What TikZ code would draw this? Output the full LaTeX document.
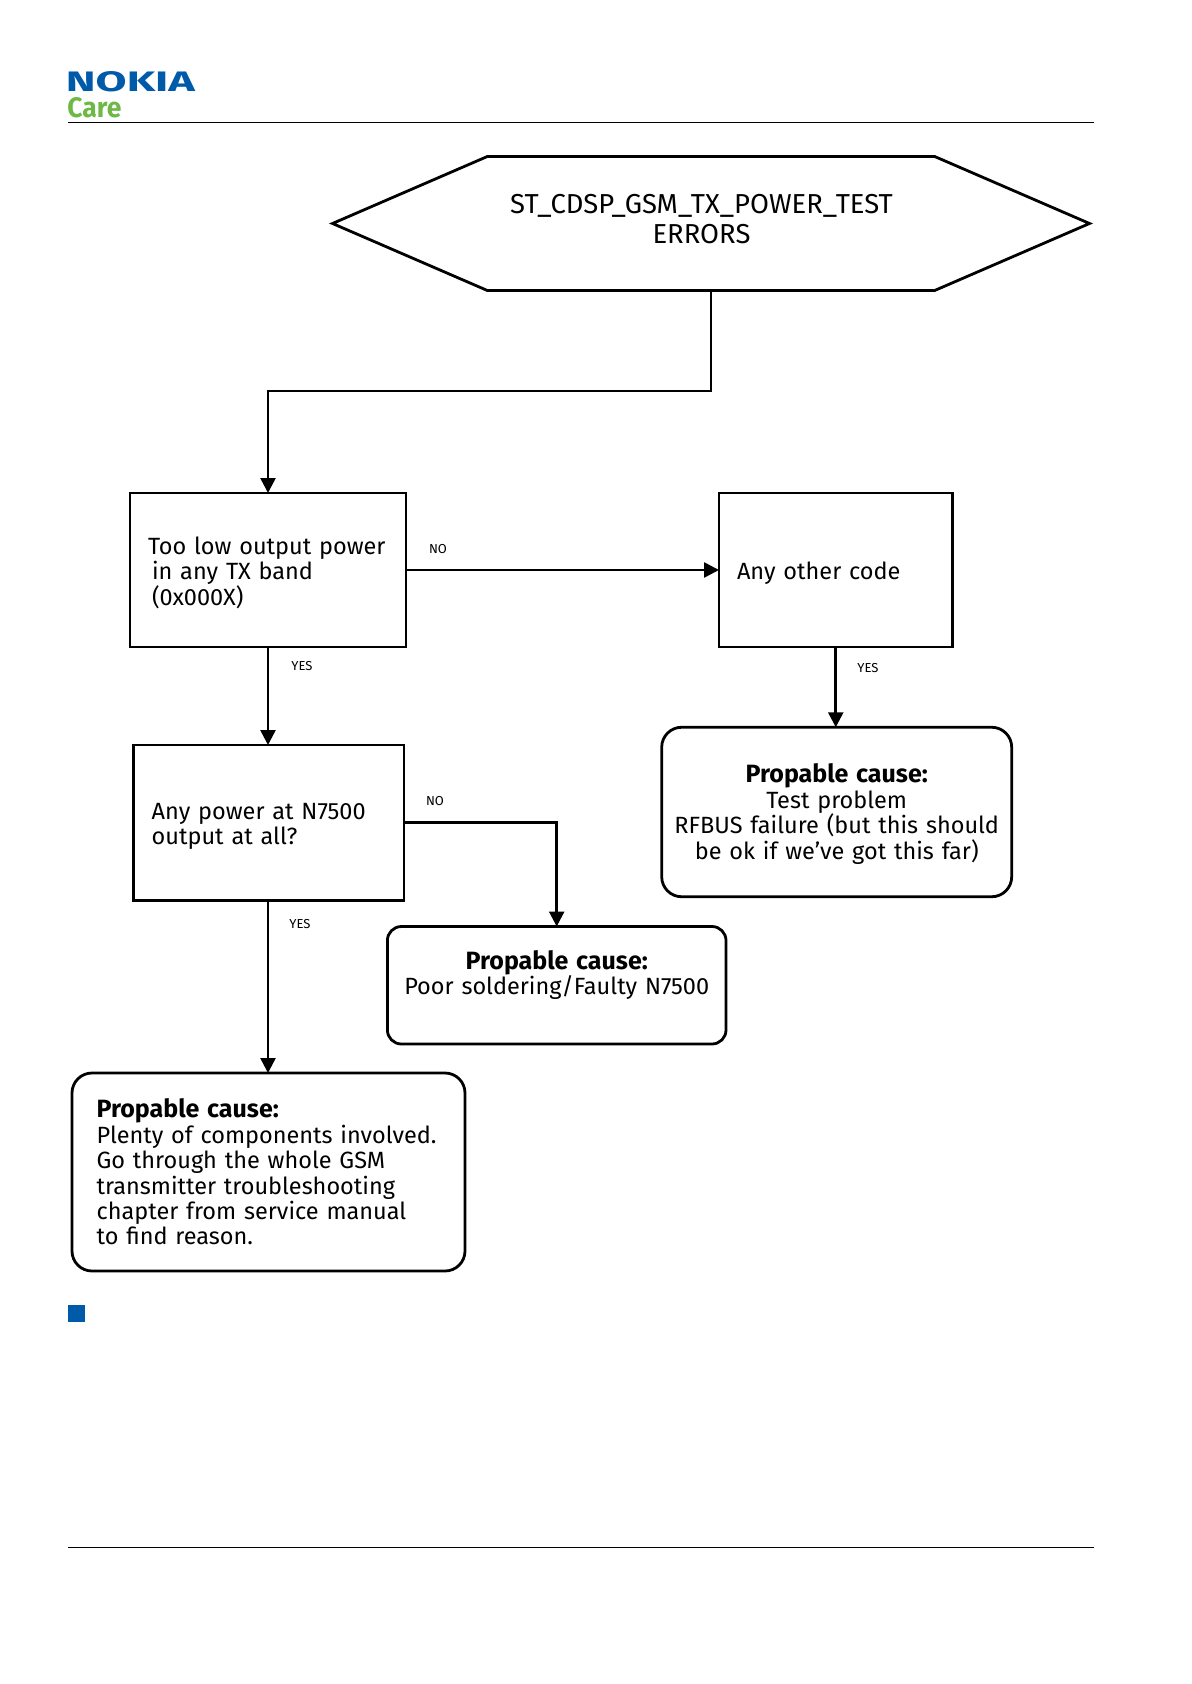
\documentclass[tikz,border=0pt]{standalone}
\usepackage{fontspec}
\setmainfont{Fira Sans}
\usepackage{tikz}
\usetikzlibrary{arrows.meta,shapes.symbols}
\definecolor{nokiablue}{RGB}{0,90,170}
\definecolor{caregreen}{RGB}{110,185,70}
\newcommand{\causehead}{{\fontsize{12.5}{12.7}\selectfont\bfseries Propable cause:}}
\newcommand{\topstrut}{\rule{0pt}{11.5pt}}

\begin{document}
\begin{tikzpicture}[x=0.5pt,y=-0.5pt,
    bodytext/.style={font=\fontsize{11.75}{12.7}\selectfont},
    plainbox/.style={draw,bodytext,line width=1.4pt,align=left,inner xsep=9pt,inner ysep=0pt,outer sep=0pt},
    causebox/.style={draw,bodytext,line width=1.4pt,align=center,rounded corners=10pt,inner xsep=0pt,inner ysep=0pt,outer sep=0pt},
    answer/.style={font=\fontsize{6.5}{8}\selectfont,inner sep=0pt},
    flow/.style={line width=1.3pt,-{Triangle[length=7.5pt,width=7.5pt]}},
    rule/.style={line width=0.8pt}]
        \useasboundingbox (0,0) rectangle (1191,1684);

        \node[inner sep=0pt,anchor=north west,text=nokiablue] (nokia) at (65.5,71) {\resizebox{64.5pt}{10pt}{\bfseries NOKIA}};
        \node[inner sep=0pt,anchor=north west,text=caregreen] (care) at (67,97.5) {\resizebox{27pt}{10pt}{\bfseries Care}};
        \coordinate (ruleaL) at (68,122.5);
        \coordinate (ruleaR) at (1094,122.5);
        \coordinate (rulebL) at (68,1547.5);
        \coordinate (rulebR) at (1094,1547.5);
        \draw[rule] (ruleaL) -- (ruleaR);
        \draw[rule] (rulebL) -- (rulebR);

        \node[draw,line width=1.4pt,signal,signal to=west and east,signal pointer angle=46.8,
            minimum width=378.5pt,minimum height=67pt,inner sep=0pt,outer sep=0pt] (top) at (711,223.5) {};
        \node[align=center,font=\fontsize{13.7}{15}\selectfont] (toptext) at (701.5,219.5) {ST\_CDSP\_GSM\_TX\_POWER\_TEST\\ERRORS};

        \node[plainbox,text width=120pt,minimum height=77pt] (low) at (268,570)
            {\topstrut\mbox{Too low output power}\\\hspace*{2pt}in any TX band\\\hspace*{2pt}(0x000X)};
        \node[plainbox,text width=98.75pt,minimum height=77pt] (other) at (835.75,570) {\topstrut Any other code};
        \node[plainbox,text width=117.15pt,minimum height=77.75pt] (any) at (268.85,822.75)
            {\topstrut Any power at N7500\\output at all?};
        \node[causebox,text width=175pt,minimum height=84.75pt] (test) at (836.7,812)
            {\topstrut\causehead\\Test problem\\RFBUS failure (but this should\\be ok if we’ve got this far)};
        \node[causebox,text width=169.3pt,minimum height=58.75pt,rounded corners=7pt] (poor) at (556.7,985.25)
            {\causehead\\Poor soldering/Faulty N7500\\\mbox{}};
        \node[causebox,align=left,text width=171.9pt,inner xsep=12.3pt,minimum height=99pt] (plenty) at (268.5,1172)
            {\causehead\\\mbox{Plenty of components involved.}\\Go through the whole GSM\\transmitter troubleshooting\\chapter from service manual\\to find reason.};

        \node[answer] (no1) at (438,549) {NO};
        \node[answer] (yes1) at (302,666) {YES};
        \node[answer] (yes2) at (868,668) {YES};
        \node[answer] (no2) at (435,801) {NO};
        \node[answer] (yes3) at (300,924) {YES};

        \coordinate (knee) at (711,391);
        \draw[flow] (top.south) -- (knee) -| (low.north);
        \draw[flow] (low) -- (other);
        \draw[flow] (low.south) -- (any.north -| low.south);
        \draw[flow] (other.south) -- (test.north -| other.south);
        \draw[flow] (any.east) -| (poor.north);
        \draw[flow] (any.south -| low.south) -- (plenty.north -| low.south);

        \node[fill=nokiablue,minimum size=8.5pt,inner sep=0pt] (mark) at (76.5,1313) {};
    \end{tikzpicture}
\end{document}
